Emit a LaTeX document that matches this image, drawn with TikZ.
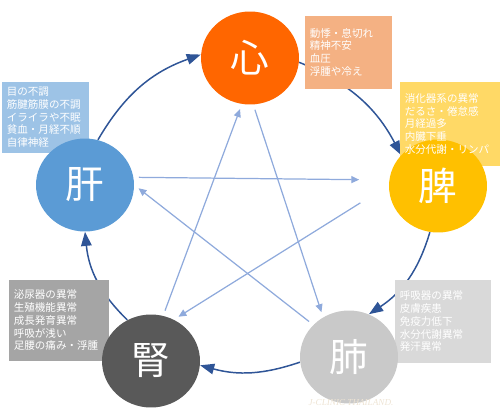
\documentclass[tikz,border=0pt]{standalone}
\usepackage{fontspec}
\setmainfont{Noto Sans CJK JP}
\newfontfamily\markfont{Liberation Serif}
\usetikzlibrary{shapes.geometric,arrows.meta}
\definecolor{heartc}{RGB}{255,102,0}
\definecolor{spleenc}{RGB}{255,192,0}
\definecolor{lungc}{RGB}{201,201,201}
\definecolor{kidneyc}{RGB}{89,89,89}
\definecolor{liverc}{RGB}{91,155,213}
\definecolor{heartbox}{RGB}{244,177,131}
\definecolor{spleenbox}{RGB}{255,217,102}
\definecolor{lungbox}{RGB}{217,217,217}
\definecolor{kidneybox}{RGB}{165,165,165}
\definecolor{liverbox}{RGB}{157,195,230}
\definecolor{cyclec}{RGB}{47,85,151}
\definecolor{starc}{RGB}{143,170,220}
\definecolor{markc}{RGB}{238,228,212}
\pgfdeclarelayer{bg}
\pgfdeclarelayer{boxes}
\pgfdeclarelayer{front}
\pgfsetlayers{bg,boxes,main,front}

\begin{document}
\begin{tikzpicture}[x=0.02cm, y=-0.02cm,
        organ/.style={ellipse, fill=#1, text=white, minimum width=1.96cm, minimum height=1.86cm, inner sep=0pt, font=\fontsize{22}{22}\selectfont},
        info/.style={rectangle, text=white, anchor=north west, align=left, inner xsep=0.09cm, inner ysep=0pt, font=\fontsize{6}{7.3}\selectfont},
        cycle/.style={draw=cyclec, line width=0.85pt, -{Triangle[length=8pt,width=6pt]}, bend left=20},
        control/.style={draw=starc, line width=0.7pt, -{Triangle[length=4.5pt,width=4pt]}, shorten <=3pt, shorten >=3pt}]

        \useasboundingbox (0,0) rectangle (500,419);

        % five organs
        \node [organ=heartc] (heart) at (250,58) {心};
        \node [organ=spleenc] (spleen) at (438,186) {脾};
        \node [organ=lungc] (lung) at (349,357) {肺};
        \node [organ=kidneyc] (kidney) at (151,361) {腎};
        \node [organ=liverc] (liver) at (85,185) {肝};

        % symptom texts, their boxes go below the circles
        \begin{pgfonlayer}{front}
        \node [info, text width=1.54cm, minimum height=1.44cm] (heartinfo) at (305,16) {動悸・息切れ\\精神不安\\血圧\\浮腫や冷え};
        \node [info, text width=1.82cm, minimum height=1.66cm] (spleeninfo) at (400,82) {消化器系の異常\\だるさ・倦怠感\\月経過多\\内臓下垂\\水分代謝・リンパ};
        \node [info, text width=1.54cm, minimum height=1.40cm] (liverinfo) at (2,82) {目の不調\\筋腱筋膜の不調\\イライラや不眠\\貧血・月経不順\\自律神経};
        \node [info, text width=1.80cm, minimum height=1.60cm] (kidneyinfo) at (9,280) {泌尿器の異常\\生殖機能異常\\成長発育異常\\呼吸が浅い\\足腰の痛み・浮腫};
        \node [info, text width=1.72cm, minimum height=1.64cm] (lunginfo) at (395,280) {呼吸器の異常\\皮膚疾患\\免疫力低下\\水分代謝異常\\発汗異常};
        \end{pgfonlayer}
        \begin{pgfonlayer}{boxes}
        \fill [heartbox] (heartinfo.north west) rectangle (heartinfo.south east);
        \fill [spleenbox] (spleeninfo.north west) rectangle (spleeninfo.south east);
        \fill [liverbox] (liverinfo.north west) rectangle (liverinfo.south east);
        \fill [kidneybox] (kidneyinfo.north west) rectangle (kidneyinfo.south east);
        \fill [lungbox] (lunginfo.north west) rectangle (lunginfo.south east);
        \end{pgfonlayer}

        \node [font=\markfont\itshape\fontsize{5.2}{6}\selectfont, text=markc] (mark) at (351,403) {J-CLINIC THAILAND.};

        \begin{pgfonlayer}{bg}
        % generating cycle
        \draw [cycle] (heart.-5) to (spleen.140);
        \draw [cycle] (spleen.-100) to (lung.65);
        \draw [cycle, bend left=17] (lung.186) to (kidney.-5);
        \draw [cycle] (kidney.120) to (liver.270);
        \draw [cycle] (liver.74) to (heart.176);
        % controlling star
        \draw [control, shorten >=17pt] (liver.9) -- (spleen.173);
        \draw [control, shorten <=19pt] (spleen.179) -- (kidney.61);
        \draw [control] (kidney.75) -- (heart.260);
        \draw [control] (heart.274) -- (lung.123);
        \draw [control] (lung.138) -- (liver.0);
        \end{pgfonlayer}
    \end{tikzpicture}
\end{document}
